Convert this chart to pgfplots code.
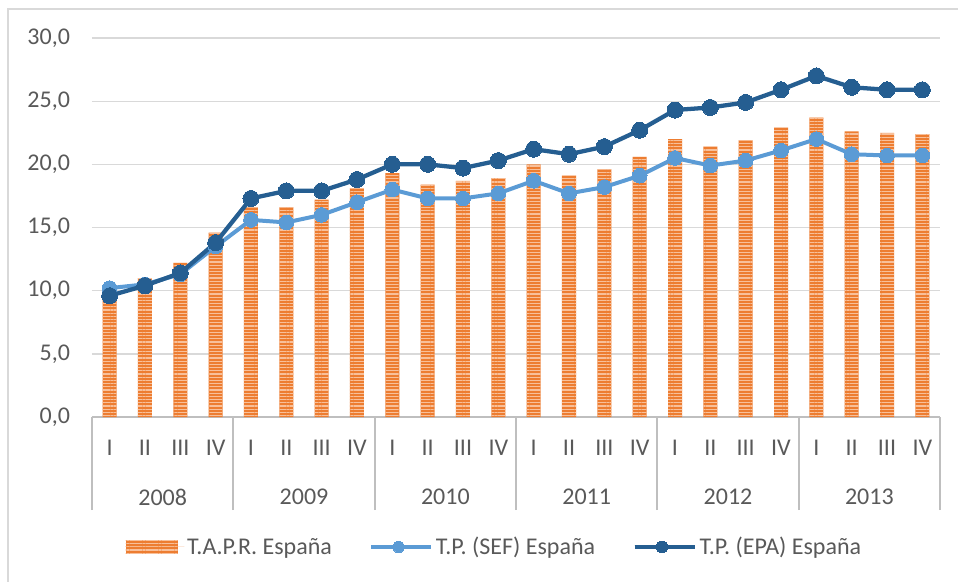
\documentclass[border=0pt]{standalone}
\usepackage{pgfplots}
\pgfplotsset{compat=1.18}
\usepackage{pgfplotstable}
\usepackage{fontspec}
\setmainfont{Carlito}
\usetikzlibrary{patterns.meta}
\definecolor{tapr}{HTML}{ED7D31}
\definecolor{taprl}{HTML}{F8C09A}
\definecolor{sef}{HTML}{5B9BD5}
\definecolor{epa}{HTML}{255E91}
\definecolor{txt}{HTML}{595959}
\definecolor{sepc}{HTML}{BFBFBF}
\definecolor{gridc}{HTML}{D9D9D9}

\pgfplotstableread{
x tapr sef epa
0 10.4 10.2 9.6
1 11.0 10.5 10.4
2 12.2 11.3 11.4
3 14.6 13.5 13.8
4 16.6 15.6 17.3
5 16.6 15.4 17.9
6 17.2 16.0 17.9
7 18.1 17.0 18.8
8 19.3 18.0 20.0
9 18.4 17.3 20.0
10 18.7 17.3 19.7
11 18.9 17.7 20.3
12 20.0 18.7 21.2
13 19.1 17.7 20.8
14 19.6 18.2 21.4
15 20.6 19.1 22.7
16 22.0 20.5 24.3
17 21.4 19.9 24.5
18 21.9 20.3 24.9
19 22.9 21.1 25.9
20 23.7 22.0 27.0
21 22.6 20.8 26.1
22 22.5 20.7 25.9
23 22.4 20.7 25.9
}\data

\newcommand{\fs}{\fontsize{18}{21}\selectfont}
\pgfplotsset{
  barleg/.style={legend image code/.code={\draw[##1, draw=none] (0pt,-5.25pt) rectangle (39pt,5.25pt);\path (0pt,0pt) -- (44pt,0pt);}},
  lineleg/.style={legend image code/.code={\draw[##1, mark=none, line width=2.3pt] (0pt,0pt) -- (41pt,0pt);
     \path[##1, every mark/.append style={line width=0pt}, mark size=4.3pt] plot coordinates {(20.5pt,0pt)};
     \path (0pt,0pt) -- (45pt,0pt);}},
}

\begin{document}
\begin{tikzpicture}
\path[use as bounding box] (-69pt,-123.75pt) rectangle (649.5pt,312.75pt);
\draw[gridc, line width=1pt] (-63pt,-123.75pt) -- (-63pt,306pt) -- (649.5pt,306pt);
\begin{axis}[
  at={(0pt,0pt)}, anchor=south west,
  scale only axis, width=636pt, height=284.25pt,
  xmin=-0.5, xmax=23.5, ymin=0, ymax=30,
  axis x line*=bottom, axis y line*=left,
  x axis line style={sepc, line width=1.5pt},
  y axis line style={draw=none},
  ytick={0,5,...,30},
  ymajorgrids, grid style={gridc, line width=1pt},
  ytick style={draw=none},
  xtick={0,...,23},
  xticklabels={I,II,III,IV,I,II,III,IV,I,II,III,IV,I,II,III,IV,I,II,III,IV,I,II,III,IV},
  xtick style={draw=none},
  xticklabel style={anchor=center, yshift=-23.25pt},
  extra x ticks={-0.5,3.5,7.5,11.5,15.5,19.5,23.5},
  extra x tick labels={},
  extra x tick style={grid=none, major tick length=69.75pt, tick align=outside,
     xtick style={draw=sepc, line width=1.5pt}},
  tick label style={font=\fs, text=txt},
  /pgf/number format/assume math mode=true,
  yticklabel style={/pgf/number format/fixed, /pgf/number format/fixed zerofill,
     /pgf/number format/precision=1, /pgf/number format/use comma, xshift=-13pt},
  clip=false,
  legend columns=3,
  legend style={at={(0.475,-0.343)}, anchor=center, draw=none, fill=none,
     font=\fs, text=txt,
     /tikz/every even column/.append style={column sep=26pt}},
  legend cell align=left,
]
\addplot[ybar, bar width=10.5pt, draw=none, fill=tapr,
   postaction={pattern={Lines[angle=0,distance=2.4pt,line width=0.8pt]}, pattern color=taprl},
   barleg]
   table[x=x,y=tapr]{\data};
\addlegendentry{T.A.P.R. España}
\addplot[sef, line width=3pt, mark=*, mark size=5.5pt, mark options={fill=sef, draw=sef, line width=0pt},
   lineleg]
   table[x=x,y=sef]{\data};
\addlegendentry{T.P. (SEF) España}
\addplot[epa, line width=3.2pt, mark=*, mark size=6pt, mark options={fill=epa, draw=epa, line width=0pt},
   lineleg]
   table[x=x,y=epa]{\data};
\addlegendentry{T.P. (EPA) España}
\node[font=\fs, text=txt] at (axis cs:1.5,0) [yshift=-60pt] {2008};
\node[font=\fs, text=txt] at (axis cs:5.5,0) [yshift=-60pt] {2009};
\node[font=\fs, text=txt] at (axis cs:9.5,0) [yshift=-60pt] {2010};
\node[font=\fs, text=txt] at (axis cs:13.5,0) [yshift=-60pt] {2011};
\node[font=\fs, text=txt] at (axis cs:17.5,0) [yshift=-60pt] {2012};
\node[font=\fs, text=txt] at (axis cs:21.5,0) [yshift=-60pt] {2013};
\end{axis}
\end{tikzpicture}
\end{document}
